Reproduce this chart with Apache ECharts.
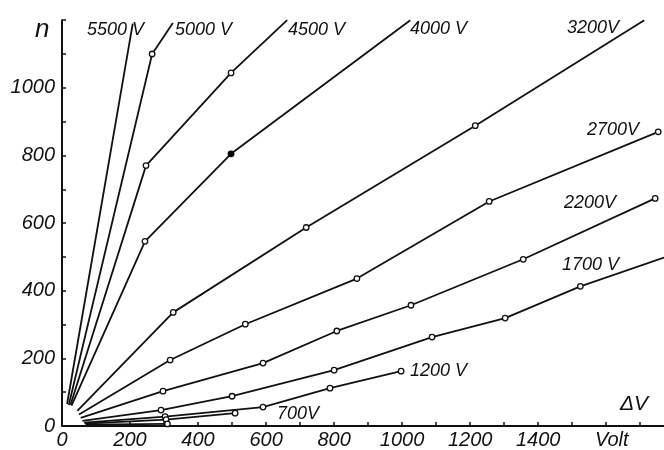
<!DOCTYPE html>
<html>
<head>
<meta charset="utf-8">
<script src="https://cdn.jsdelivr.net/npm/echarts@6/dist/echarts.min.js"></script>
<style>
html,body{margin:0;padding:0;background:#fff;}
#chart{width:664px;height:450px;}
</style>
</head>
<body>
<div id="chart"></div>
<script>
// ---- data (x: ΔV in Volt, y: n) ----
const seriesNames = ['5500 V', '5000 V', '4500 V', '4000 V', '3200V', '2700V', '2200V', '1700 V', '1200 V', '700V', ''];
const s5500 = [[15, 65], [208, 1190]];
const s5000 = [[20, 62], [265, 1100], [326, 1192]];
const s4500 = [[25, 62], [247, 770], [497, 1044], [662, 1200]];
const s4000 = [[28, 60], [244, 546], [497, 805], [1024, 1200]];
const s3200 = [[45, 45], [327, 336], [718, 587], [1215, 888], [1712, 1200]];
const s2700 = [[50, 34], [318, 195], [539, 301], [867, 436], [1256, 664], [1753, 870]];
const s2200 = [[55, 24], [297, 103], [591, 186], [808, 281], [1026, 357], [1356, 493], [1744, 673]];
const s1700 = [[60, 15], [291, 47], [500, 88], [800, 165], [1088, 263], [1303, 319], [1524, 413], [1770, 498]];
const s1200 = [[65, 10], [303, 28], [591, 56], [788, 112], [997, 162]];
const s700  = [[68, 7], [306, 19], [509, 38]];
const sLow  = [[70, 4], [310, 6]];
const seriesValues = [s5500, s5000, s4500, s4000, s3200, s2700, s2200, s1700, s1200, s700, sLow];

const xTickLabels = ['0', '200', '400', '600', '800', '1000', '1200', '1400'];
const yTickLabels = ['0', '200', '400', '600', '800', '1000'];

// which series carry a marker on their last point, and the one filled marker
const endMarked = ['2700V', '2200V', '1200 V', '700V', ''];
const filled = { name: '4000 V', index: 2 };

const FONT = 'italic 18px "Liberation Sans", sans-serif';

const series = seriesValues.map((vals, si) => {
  const name = seriesNames[si];
  const data = vals.map((v, i) => {
    const last = i === vals.length - 1;
    const marked = i > 0 && (!last || endMarked.includes(name));
    const item = { value: v };
    if (!marked) item.symbol = 'none';
    if (name === filled.name && i === filled.index) {
      item.itemStyle = { color: '#000', borderColor: '#000' };
    }
    return item;
  });
  return {
    name: name,
    type: 'line',
    data: data,
    symbol: 'circle',
    symbolSize: 5.5,
    showSymbol: true,
    lineStyle: { color: '#111', width: 1.8 },
    itemStyle: { color: '#fff', borderColor: '#111', borderWidth: 1.3 },
    z: 3,
    silent: true
  };
});

const labelPos = {
  '5500 V': [87, 30], '5000 V': [175, 30], '4500 V': [288, 30], '4000 V': [410, 29],
  '3200V': [567, 28], '2700V': [587, 130], '2200V': [564, 203], '1700 V': [562, 265],
  '1200 V': [410, 371], '700V': [277, 414]
};
const graphics = Object.keys(labelPos).map(k => ({
  type: 'text', z: 10,
  style: { text: k, x: labelPos[k][0], y: labelPos[k][1], font: FONT, fill: '#111',
           textAlign: 'left', textVerticalAlign: 'middle' }
}));
graphics.push({ type: 'text', z: 10, style: { text: 'n', x: 35, y: 30,
  font: 'italic 26px "Liberation Sans", sans-serif', fill: '#111', textAlign: 'left', textVerticalAlign: 'middle' } });
graphics.push({ type: 'text', z: 10, style: { text: 'ΔV', x: 620, y: 404,
  font: 'italic 21px "Liberation Sans", sans-serif', fill: '#111', textAlign: 'left', textVerticalAlign: 'middle' } });

const chart = echarts.init(document.getElementById('chart'), null, { renderer: 'canvas' });
chart.setOption({
  animation: false,
  backgroundColor: '#fff',
  grid: { left: 62, right: 0, top: 20.2, bottom: 23, containLabel: false },
  xAxis: {
    type: 'value', min: 0, max: 1770, interval: 100,
    axisLine: { lineStyle: { color: '#111', width: 2 } },
    axisTick: { inside: true, length: 4, lineStyle: { color: '#111', width: 1.5 } },
    splitLine: { show: false },
    axisLabel: {
      margin: 4, color: '#111', fontFamily: 'Liberation Sans', fontStyle: 'italic', fontSize: 20,
      showMaxLabel: false,
      formatter: v => {
        const s = String(v);
        if (xTickLabels.includes(s)) return s;
        if (v === 1600) return '  Volt';
        return '';
      }
    }
  },
  yAxis: {
    type: 'value', min: 0, max: 1200, interval: 100,
    axisLine: { lineStyle: { color: '#111', width: 2 } },
    axisTick: { inside: true, length: 4, lineStyle: { color: '#111', width: 1.5 } },
    splitLine: { show: false },
    axisLabel: {
      margin: 7, color: '#111', fontFamily: 'Liberation Sans', fontStyle: 'italic', fontSize: 20,
      formatter: v => yTickLabels.includes(String(v)) ? String(v) : ''
    }
  },
  series: series,
  graphic: graphics
});
</script>
</body>
</html>
